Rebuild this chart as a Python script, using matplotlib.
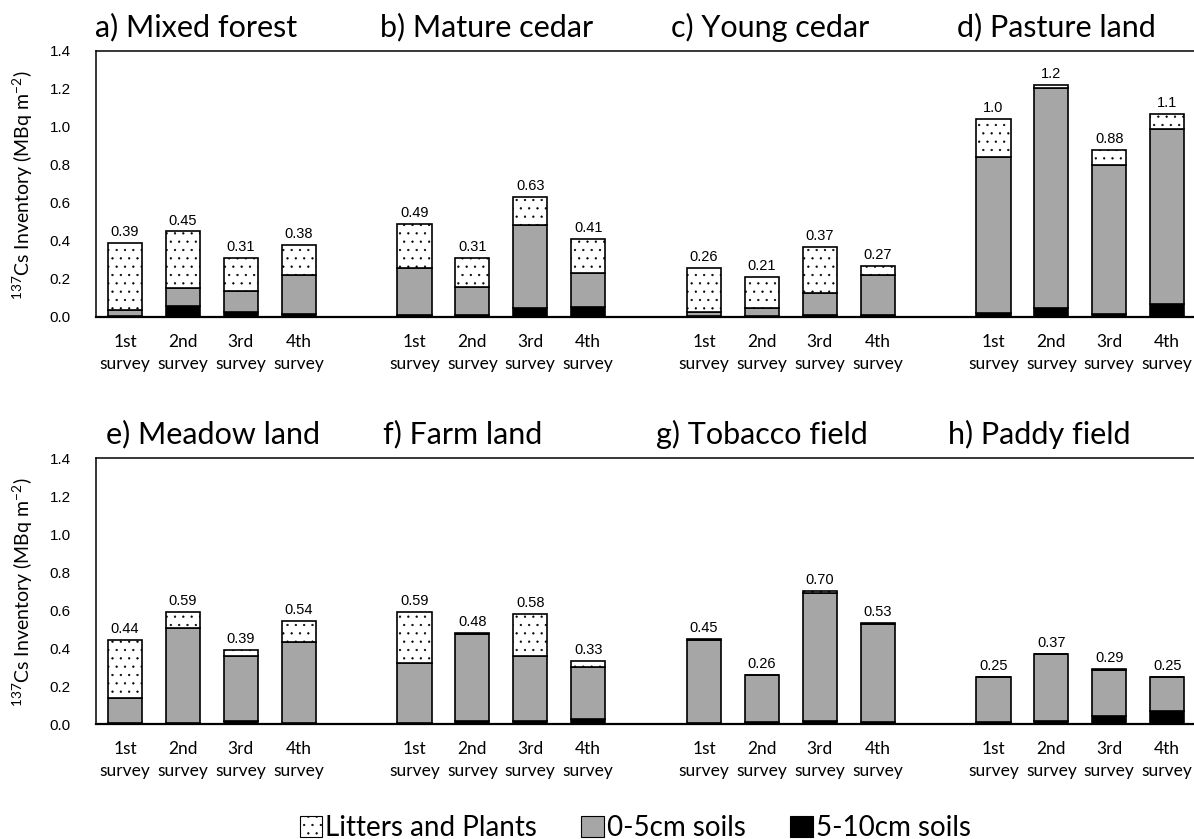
import matplotlib
matplotlib.use("Agg")
import matplotlib.pyplot as plt
from matplotlib.patches import Patch
import numpy as np

# --- data -------------------------------------------------------------
sites_top = ["a) Mixed forest", "b) Mature cedar", "c) Young cedar", "d) Pasture land"]
sites_bottom = ["e) Meadow land", "f) Farm land", "g) Tobacco field", "h) Paddy field"]
surveys = ["1st\nsurvey", "2nd\nsurvey", "3rd\nsurvey", "4th\nsurvey"]

# total 137Cs inventory per survey (MBq m-2)
total_a = [0.39, 0.45, 0.31, 0.38]
total_b = [0.49, 0.31, 0.63, 0.41]
total_c = [0.26, 0.21, 0.37, 0.27]
total_d = [1.04, 1.22, 0.88, 1.07]
total_e = [0.44, 0.59, 0.39, 0.54]
total_f = [0.59, 0.48, 0.58, 0.33]
total_g = [0.45, 0.26, 0.70, 0.53]
total_h = [0.25, 0.37, 0.29, 0.25]

# 5-10 cm soil layer
deep_a = [0.004, 0.056, 0.026, 0.014]
deep_b = [0.008, 0.010, 0.046, 0.051]
deep_c = [0.003, 0.004, 0.010, 0.008]
deep_d = [0.020, 0.047, 0.015, 0.070]
deep_e = [0.003, 0.003, 0.016, 0.005]
deep_f = [0.005, 0.014, 0.018, 0.024]
deep_g = [0.005, 0.010, 0.015, 0.008]
deep_h = [0.010, 0.018, 0.040, 0.066]

# 0-5 cm soil layer
surf_a = [0.033, 0.099, 0.109, 0.207]
surf_b = [0.248, 0.150, 0.437, 0.183]
surf_c = [0.023, 0.042, 0.116, 0.211]
surf_d = [0.824, 1.157, 0.787, 0.920]
surf_e = [0.135, 0.504, 0.340, 0.427]
surf_f = [0.314, 0.462, 0.342, 0.276]
surf_g = [0.435, 0.247, 0.674, 0.517]
surf_h = [0.238, 0.349, 0.245, 0.180]

legend_labels = ["Litters and Plants", "0-5cm soils", "5-10cm soils"]
yticks = [0.0, 0.2, 0.4, 0.6, 0.8, 1.0, 1.2, 1.4]

# --- style ------------------------------------------------------------
plt.rcParams["font.family"] = ["Lato", "DejaVu Sans"]
plt.rcParams["mathtext.default"] = "regular"
plt.rcParams["hatch.linewidth"] = 0.4
plt.rcParams["hatch.color"] = "#444444"

GRAY = "#A6A6A6"
EDGE_LW = 1.2
NUM_FONT = "Liberation Sans"
LITTER_HATCH = ".."

W, H = 1194, 839
fig = plt.figure(figsize=(W / 100, H / 100), dpi=100)

slot_px = 57.9
left_px = 96
xmax = -0.5 + (W - left_px) / slot_px


def draw_row(ax, names, totals, deeps, surfs, title_x):
    positions = []
    for g in range(4):
        x = np.arange(4) + 5 * g
        tot = np.array(totals[g])
        dp = np.array(deeps[g])
        sf = np.array(surfs[g])
        lit = tot - dp - sf
        ax.bar(x, dp, width=0.59, color="black", edgecolor="black", lw=EDGE_LW, zorder=3)
        ax.bar(x, sf, width=0.59, bottom=dp, color=GRAY, edgecolor="black", lw=EDGE_LW, zorder=3)
        ax.bar(x, lit, width=0.59, bottom=dp + sf, color="white", edgecolor="black",
               lw=EDGE_LW, hatch=LITTER_HATCH, zorder=3)
        for xi, t in zip(x, tot):
            ax.annotate("%#.2g" % t, (xi, t), xytext=(0, 5), textcoords="offset points",
                        ha="center", va="baseline", fontsize=10.5, family=NUM_FONT)
        positions.extend(x)
        ax.text(title_x[g], 1.053, names[g], transform=ax.get_xaxis_transform(),
                ha="left", va="baseline", fontsize=22)
    ax.set_xlim(-0.5, xmax)
    ax.set_ylim(0, 1.4)
    ax.set_yticks(yticks)
    ax.set_yticklabels(["%.1f" % v for v in yticks], family=NUM_FONT, fontsize=11)
    ax.set_xticks(positions)
    ax.set_xticklabels(surveys * 4, fontsize=12.5, linespacing=1.45)
    ax.tick_params(axis="both", length=0)
    ax.tick_params(axis="y", pad=18)
    ax.tick_params(axis="x", pad=12)
    ax.spines["right"].set_visible(False)
    for s in ("left", "top"):
        ax.spines[s].set_linewidth(1.1)
    ax.spines["bottom"].set_linewidth(1.6)


ax_w = (W - left_px) / W
ax1 = fig.add_axes([left_px / W, 1 - 317 / H, ax_w, 266 / H])
ax2 = fig.add_axes([left_px / W, 1 - 724 / H, ax_w, 266 / H])

draw_row(ax1, sites_top,
         [total_a, total_b, total_c, total_d],
         [deep_a, deep_b, deep_c, deep_d],
         [surf_a, surf_b, surf_c, surf_d],
         [-0.52, 4.40, 9.43, 14.37])
draw_row(ax2, sites_bottom,
         [total_e, total_f, total_g, total_h],
         [deep_e, deep_f, deep_g, deep_h],
         [surf_e, surf_f, surf_g, surf_h],
         [-0.33, 4.45, 9.18, 14.22])

ylabel = r"$^{137}$Cs Inventory (MBq m$^{-2}$)"
fig.text(23 / W, 1 - 185 / H, ylabel, rotation=90, ha="center", va="center", fontsize=14)
fig.text(23 / W, 1 - 592 / H, ylabel, rotation=90, ha="center", va="center", fontsize=14)

handles = [
    Patch(facecolor="white", edgecolor="black", hatch=LITTER_HATCH, lw=0.8),
    Patch(facecolor=GRAY, edgecolor="black", lw=0.8),
    Patch(facecolor="black", edgecolor="black", lw=0.8),
]
fig.legend(handles, legend_labels, loc="center", bbox_to_anchor=(0.532, 1 - 828 / H),
           ncol=3, frameon=False, fontsize=20, handlelength=0.8, handleheight=0.8,
           handletextpad=0.12, columnspacing=1.6, borderaxespad=0, borderpad=0)

fig.savefig("out.png", dpi=100)
